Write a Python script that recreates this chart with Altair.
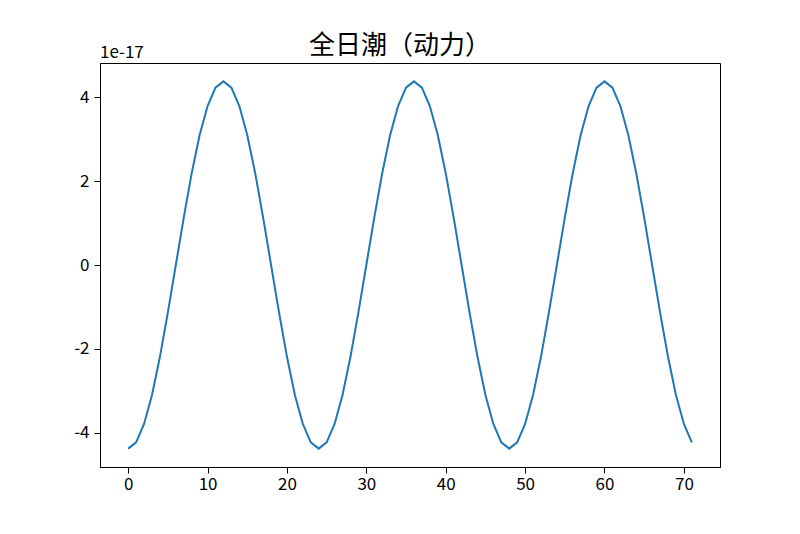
import altair as alt
import pandas as pd

hours = list(range(72))
# values in units of 1e-17
values = [
    -4.38, -4.23, -3.79, -3.10, -2.19, -1.13, 0.00, 1.13, 2.19, 3.10, 3.79, 4.23,
    4.38, 4.23, 3.79, 3.10, 2.19, 1.13, 0.00, -1.13, -2.19, -3.10, -3.79, -4.23,
    -4.38, -4.23, -3.79, -3.10, -2.19, -1.13, 0.00, 1.13, 2.19, 3.10, 3.79, 4.23,
    4.38, 4.23, 3.79, 3.10, 2.19, 1.13, 0.00, -1.13, -2.19, -3.10, -3.79, -4.23,
    -4.38, -4.23, -3.79, -3.10, -2.19, -1.13, 0.00, 1.13, 2.19, 3.10, 3.79, 4.23,
    4.38, 4.23, 3.79, 3.10, 2.19, 1.13, 0.00, -1.13, -2.19, -3.10, -3.79, -4.23,
]
x_ticks = [0, 10, 20, 30, 40, 50, 60, 70]
y_ticks = [-4, -2, 0, 2, 4]
title_text = "全日潮（动力）"
offset_text = "1e-17"

df = pd.DataFrame({"x": hours, "y": values})
FONT = "Noto Sans CJK SC"
LBL = 17

line = alt.Chart(df).mark_line(color="#1f77b4", strokeWidth=2).encode(
    x=alt.X("x:Q", scale=alt.Scale(domain=[-3.55, 74.55], nice=False, zero=False),
            axis=alt.Axis(values=x_ticks, title=None, grid=False,
                          labelExpr="toString(datum.value)",
                          tickColor="black", domainColor="black", tickSize=6,
                          tickWidth=1, domainWidth=1,
                          labelFontSize=LBL, labelColor="black", labelFont=FONT,
                          labelPadding=3)),
    y=alt.Y("y:Q", scale=alt.Scale(domain=[-4.818, 4.818], nice=False, zero=False),
            axis=alt.Axis(values=y_ticks, title=None, grid=False,
                          labelExpr="toString(datum.value)",
                          tickColor="black", domainColor="black", tickSize=6,
                          tickWidth=1, domainWidth=1,
                          labelFontSize=LBL, labelColor="black", labelFont=FONT,
                          labelPadding=5)),
)

offset = alt.Chart(pd.DataFrame({"t": [offset_text]})).mark_text(
    align="left", baseline="alphabetic", fontSize=LBL, font=FONT, color="black"
).encode(x=alt.value(0), y=alt.value(-5), text="t:N")

title = alt.Chart(pd.DataFrame({"t": [title_text]})).mark_text(
    align="center", baseline="alphabetic", fontSize=26, font=FONT, color="black"
).encode(x=alt.value(300), y=alt.value(-9), text="t:N")

chart = alt.layer(line, offset, title).properties(
    width=620, height=404,
    autosize=alt.AutoSizeParams(type="none"),
    padding={"left": 92, "top": 55, "right": 72, "bottom": 59},
).configure(background="white").configure_view(stroke="black", strokeWidth=1)

chart.save("out.html", embed_options={"renderer": "svg", "actions": False})
